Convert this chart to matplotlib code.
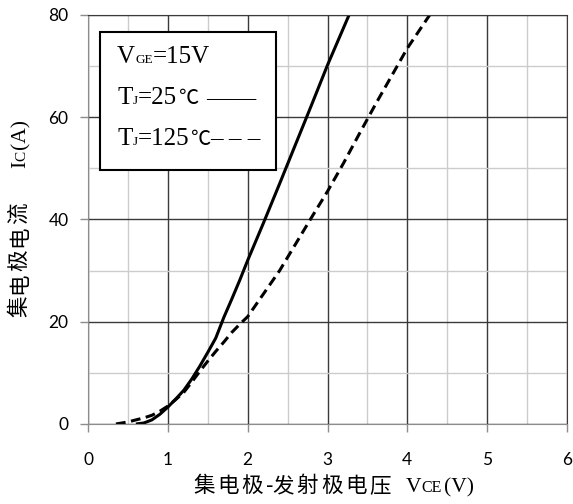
import matplotlib
matplotlib.use('Agg')
import matplotlib.pyplot as plt
from matplotlib.ticker import MultipleLocator
from matplotlib.transforms import IdentityTransform
from matplotlib.patches import Rectangle

# output characteristic, VGE = 15V
vce_25 = [0.6, 0.7, 0.8, 0.9, 1.0, 1.1, 1.2, 1.3, 1.4, 1.5, 1.6, 1.64, 1.7, 1.8, 1.9,
          2.0, 2.2, 2.4, 2.6, 2.8, 3.0, 3.27]
ic_25 = [0, 0.2, 0.8, 1.9, 3.3, 4.9, 6.6, 8.8, 11.3, 14.0, 16.8, 18.4, 20.8, 24.4, 28.1,
         32.0, 39.4, 47.0, 54.7, 62.4, 70.2, 80]

vce_125 = [0.35, 0.5, 0.6, 0.7, 0.8, 0.9, 1.0, 1.1, 1.2, 1.3, 1.4, 1.5, 1.6, 1.7, 1.8, 1.9,
           2.0, 2.2, 2.4, 2.6, 2.8, 3.0, 3.2, 3.4, 3.6, 3.8, 4.0, 4.28]
ic_125 = [0, 0.4, 0.8, 1.2, 1.7, 2.5, 3.5, 4.8, 6.2, 8.2, 10.3, 12.3, 14.2, 16.0, 17.9, 19.5,
          21.0, 25.5, 30.0, 35.2, 40.4, 45.5, 51.0, 56.8, 62.5, 68.0, 73.5, 80]

x_ticks = [0, 1, 2, 3, 4, 5, 6]
y_ticks = [0, 20, 40, 60, 80]

SERIF = ['Liberation Serif', 'Noto Sans CJK SC']
CJK = ['Noto Sans CJK SC', 'DejaVu Sans']

fig = plt.figure(figsize=(5.73, 5.04), dpi=100)
ax = fig.add_axes([88 / 573, 1 - 424 / 504, (567 - 88) / 573, (424 - 15) / 504])

ax.plot(vce_25, ic_25, color='black', lw=2.2, solid_capstyle='butt')
ax.plot(vce_125, ic_125, color='black', lw=2.2, linestyle=(0, (3.2, 1.8)))

ax.set_xlim(0, 6)
ax.set_ylim(0, 80)
ax.set_xticks(x_ticks)
ax.set_yticks(y_ticks)
ax.xaxis.set_minor_locator(MultipleLocator(0.5))
ax.yaxis.set_minor_locator(MultipleLocator(10))
ax.set_axisbelow(True)
ax.grid(which='major', color='#3a3a3a', lw=1)
ax.grid(which='minor', color='#cccccc', lw=1)
ax.tick_params(which='minor', length=0)
ax.tick_params(which='major', color='#8c8c8c', length=6, width=1, labelsize=12.5)
ax.tick_params(axis='x', pad=14)
ax.tick_params(axis='y', pad=8)
for lab in ax.get_xticklabels() + ax.get_yticklabels():
    lab.set_family('Lato')
for side in ['left', 'bottom']:
    ax.spines[side].set_color('#8c8c8c')
for side in ['top', 'right']:
    ax.spines[side].set_color('#3a3a3a')

fig.canvas.draw()
renderer = fig.canvas.get_renderer()


def put(x, y, s, size, fam, rotation=0):
    t = fig.text(x, y, s, fontsize=size, family=fam, ha='left', va='baseline',
                 rotation=rotation, rotation_mode='anchor',
                 transform=IdentityTransform(), zorder=5)
    bb = t.get_window_extent(renderer)
    return bb.width if rotation == 0 else bb.height


def draw_pieces(x, y, pieces, rotation=0):
    # pieces one after another; adv=None -> measured width + gap
    for s, size, fam, gap, adv in pieces:
        w = put(x, y, s, size, fam, rotation)
        step = (w + gap) if adv is None else adv
        if rotation == 0:
            x += step
        else:
            y += step


def cjk_chars(s, size, pitch, hyphen_adv=31):
    return [(ch, size, CJK, 0, hyphen_adv - pitch if ch == '-' else pitch) for ch in s]


H = 504
# x label
xl = cjk_chars('集电极-发射极电压', 15.5, 24.2)
xl[-1] = ('压', 15.5, CJK, 0, 37)
draw_pieces(193, H - 492, xl + [('V', 15.5, SERIF, 0, None),
                                ('CE', 11.5, SERIF, 2, None),
                                ('(V)', 15.5, SERIF, 0, None)])
# y label
yl = cjk_chars('集电极电流', 15.5, 23.2)
yl[-1] = ('流', 15.5, CJK, 0, 56)
draw_pieces(25, H - 317, yl + [('I', 15.5, SERIF, 0, None),
                               ('C', 11, SERIF, 2, None),
                               ('(A)', 15.5, SERIF, 0, None)], rotation=90)

# condition box
fig.patches.append(Rectangle((100, H - 170), 176, 138, transform=IdentityTransform(),
                             facecolor='white', edgecolor='black', lw=1.5, zorder=4))
draw_pieces(117, H - 63, [('V', 18, SERIF, 0, None), ('GE', 9.5, SERIF, 0, None),
                          ('=15V', 18, SERIF, 0, None)])
draw_pieces(117, H - 104, [('T', 18, SERIF, 0, None), ('J', 9.5, SERIF, 0, None),
                           ('=25', 18, SERIF, 1, None), ('℃', 14.5, SERIF, 8, None),
                           ('——', 18, SERIF, 0, None)])
draw_pieces(117, H - 145, [('T', 18, SERIF, 0, None), ('J', 9.5, SERIF, 0, None),
                           ('=125', 18, SERIF, 1, None), ('℃', 14.5, SERIF, 0, None),
                           ('– – –', 18, SERIF, 0, None)])

fig.savefig('out.png', dpi=100)
